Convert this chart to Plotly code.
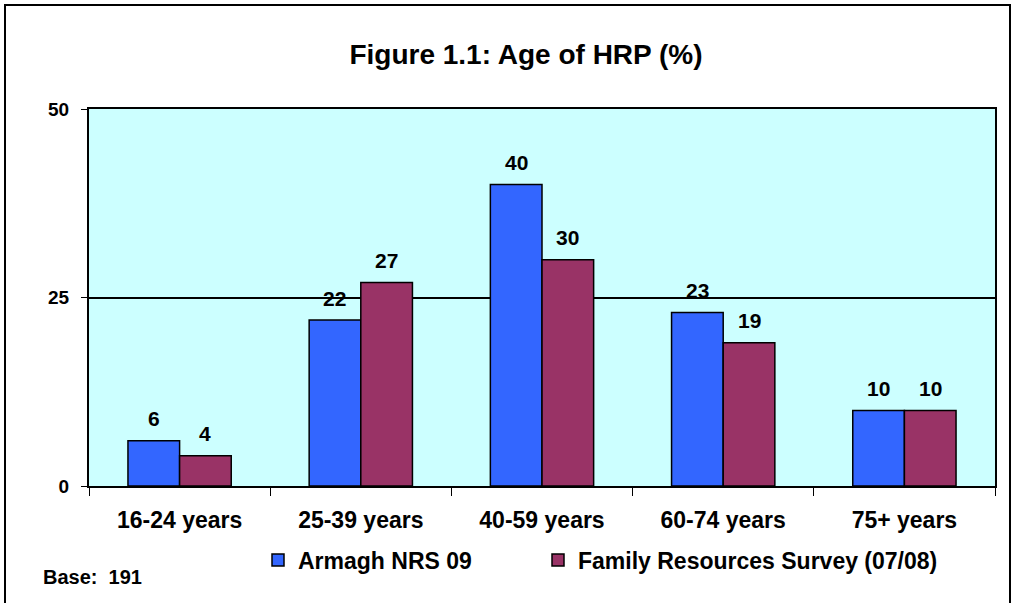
import plotly.graph_objects as go

categories = ["16-24 years", "25-39 years", "40-59 years", "60-74 years", "75+ years"]
armagh = [6, 22, 40, 23, 10]
frs = [4, 27, 30, 19, 10]
series_names = ["Armagh NRS 09", "Family Resources Survey (07/08)"]
y_ticks = [0, 25, 50]

W, H = 1016, 603
L, R, T, B = 89, 21, 109, 117
pw, ph = W - L - R, H - T - B

def px_x(x):
    return (x - L) / pw

def px_y(y):
    return (H - B - y) / ph

font_main = "Arial, Liberation Sans, sans-serif"
colors = ["#3366FF", "#993366"]
bargap = 0.43
bar_px = pw / len(categories) * (1 - bargap) / 2

fig = go.Figure()
for i, (vals, name, col) in enumerate(zip([armagh, frs], series_names, colors)):
    fig.add_trace(go.Bar(
        x=categories, y=vals, name="<b>" + name + "</b>",
        marker=dict(color=col, line=dict(color="black", width=1.5)),
        legend="legend" if i == 0 else "legend2",
        hoverinfo="skip",
    ))

annotations = []
for i, vals in enumerate([armagh, frs]):
    shift = (-0.5 if i == 0 else 0.5) * bar_px
    for c, v in zip(categories, vals):
        annotations.append(dict(
            x=c, y=v, xref="x", yref="y", text=f"<b>{v}</b>", showarrow=False,
            xshift=shift, yshift=22, yanchor="middle", xanchor="center",
            font=dict(size=21, family=font_main, color="black")))

annotations.append(dict(text="<b>Base:  191</b>", xref="paper", yref="paper",
                        x=px_x(41), y=px_y(577), xanchor="left", yanchor="middle",
                        showarrow=False, font=dict(size=20, family=font_main, color="black")))

legend_common = dict(orientation="h", yanchor="middle", xanchor="left",
                     font=dict(size=23, family=font_main, color="black"),
                     bgcolor="rgba(0,0,0,0)", itemwidth=30)

fig.update_layout(
    width=W, height=H,
    margin=dict(l=L, r=R, t=T, b=B),
    paper_bgcolor="white",
    plot_bgcolor="#CCFFFF",
    barmode="group",
    bargap=bargap,
    bargroupgap=0,
    font=dict(family=font_main, size=16, color="black"),
    title=dict(text="<b>Figure 1.1: Age of HRP (%)</b>", x=px_x(526), xref="paper",
               y=1 - 54 / H, yanchor="middle", xanchor="center",
               font=dict(size=28, family=font_main, color="black")),
    showlegend=True,
    legend=dict(x=px_x(258), y=px_y(560), **legend_common),
    legend2=dict(x=px_x(538), y=px_y(560), **legend_common),
    xaxis=dict(
        showgrid=False, showline=True, linecolor="black", linewidth=2,
        ticks="outside", tickson="boundaries", ticklen=8, tickcolor="black", tickwidth=1,
        tickfont=dict(size=23, family=font_main, color="black"),
        tickprefix="<b>", ticksuffix="</b>", ticklabelstandoff=12,
        mirror=True, fixedrange=True,
    ),
    yaxis=dict(
        range=[0, 50], tickvals=y_ticks, ticktext=[f"<b>{v}</b>" for v in y_ticks],
        showgrid=True, gridcolor="black", gridwidth=1.5,
        showline=True, linecolor="black", linewidth=2, mirror=True,
        ticks="outside", ticklen=6, tickcolor="black",
        tickfont=dict(size=19, family=font_main, color="black"),
        ticklabelstandoff=8,
        zeroline=False, fixedrange=True,
    ),
    shapes=[dict(type="rect", xref="paper", yref="paper",
                 x0=px_x(5), x1=px_x(1010), y0=px_y(612), y1=px_y(5),
                 line=dict(color="black", width=2), fillcolor="rgba(0,0,0,0)", layer="below")],
    annotations=annotations,
)

fig.write_html("out.html", post_script="document.body.style.margin='0';",
               config={"displayModeBar": False})
